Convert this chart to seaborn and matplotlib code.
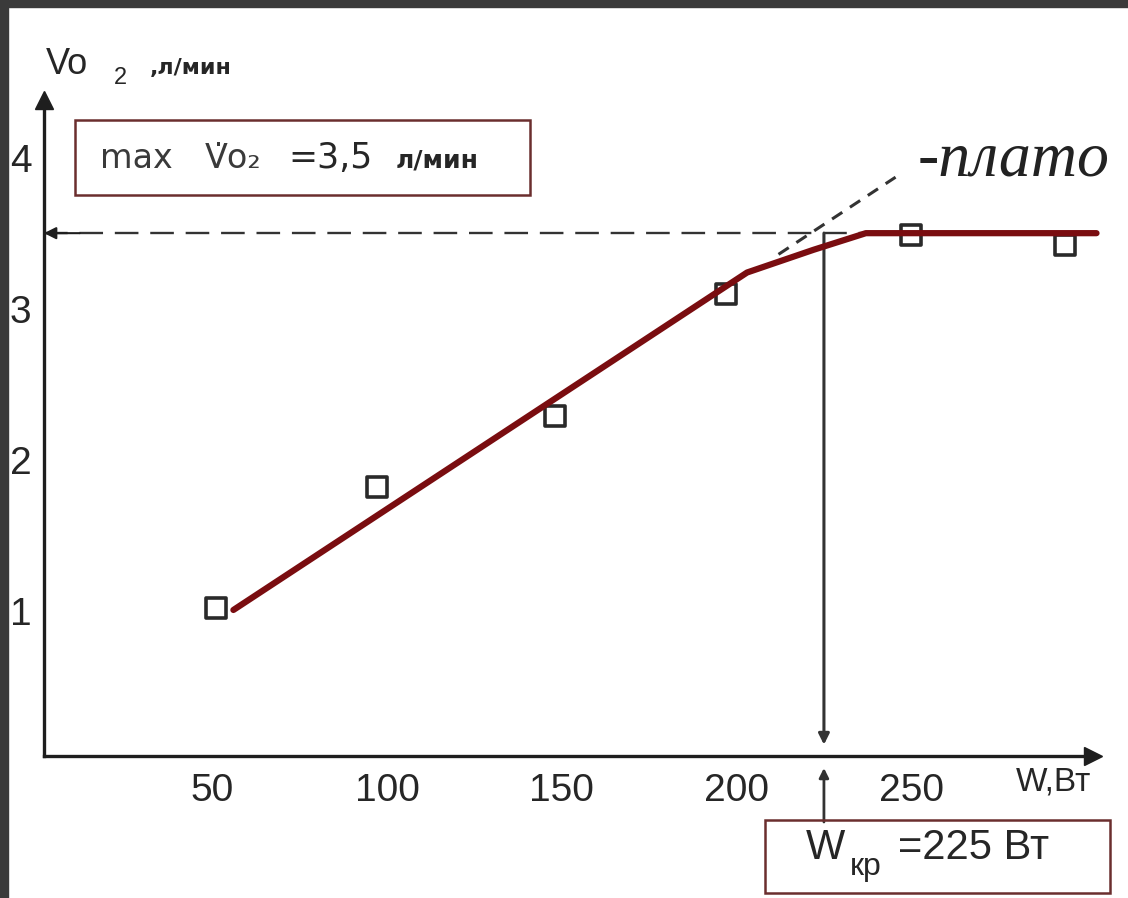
import matplotlib
matplotlib.use('Agg')
import matplotlib.pyplot as plt
from matplotlib.patches import Rectangle
import pandas as pd
import seaborn as sns

# measured points (W, l/min)
power_w = [51, 97, 148, 197, 250, 294]
vo2_lmin = [1.02, 1.82, 2.29, 3.10, 3.49, 3.42]

# fitted curve with plateau
fit_w = [56, 203, 222, 237, 303]
fit_vo2 = [1.01, 3.24, 3.39, 3.50, 3.50]

vo2_max = 3.5
w_crit = 225
x_ticks = [50, 100, 150, 200, 250]
y_ticks = [1, 2, 3, 4]

pointsDF = pd.DataFrame({'W': power_w, 'VO2': vo2_lmin})
fitDF = pd.DataFrame({'W': fit_w, 'VO2': fit_vo2})

sns.set_style('white')
plt.rcParams['font.family'] = ['Liberation Sans', 'DejaVu Sans']

W, H = 1128, 898
fig = plt.figure(figsize=(W / 100, H / 100), dpi=100)
fig.patch.set_facecolor('white')


def fx(px):
    return px / W


def fy(py):
    return 1 - py / H


ax = fig.add_axes([fx(44), fy(756), fx(1093) - fx(44), fy(100) - fy(756)])
ax.set_xlim(1.8, 302)
ax.set_ylim(0.045, 4.38)

ink = '#1e1e1e'
txt = '#262626'

# data
sns.scatterplot(data=pointsDF, x='W', y='VO2', ax=ax, marker='s', s=200,
                facecolor='white', edgecolor='#2a2a2a', linewidth=2.6,
                zorder=4, clip_on=False)
sns.lineplot(data=fitDF, x='W', y='VO2', ax=ax, color='#7a0d10', lw=4.5,
             zorder=5, clip_on=False)

# guide lines
ax.plot([1.8, 237], [vo2_max, vo2_max], color='#333333', lw=1.7,
        ls=(0, (10, 5)), zorder=2)
ax.annotate('', xy=(1.8, vo2_max), xytext=(12, vo2_max),
            arrowprops=dict(arrowstyle='-|>', color=ink, lw=1.5,
                            mutation_scale=18, shrinkA=0, shrinkB=0))
ax.annotate('', xy=(w_crit, 0.12), xytext=(w_crit, vo2_max),
            arrowprops=dict(arrowstyle='-|>', color='#333333', lw=2.2,
                            mutation_scale=16, shrinkA=0, shrinkB=0),
            zorder=3)
ax.annotate('', xy=(w_crit, H - 768), xytext=(w_crit, H - 822),
            xycoords=('data', 'figure pixels'), textcoords=('data', 'figure pixels'),
            arrowprops=dict(arrowstyle='-|>', color='#333333', lw=2.0,
                            mutation_scale=14, shrinkA=0, shrinkB=0),
            annotation_clip=False)
ax.plot([212, 245.5], [3.36, 3.87], color='#333333', lw=2.2,
        ls=(0, (4, 3)), zorder=2, clip_on=False)

# axes styling
sns.despine(ax=ax)
for s in ['left', 'bottom']:
    ax.spines[s].set_linewidth(2.4)
    ax.spines[s].set_color(ink)
ax.plot([1], [0], '>', color=ink, ms=13, transform=ax.transAxes, clip_on=False)
ax.plot([0], [1], '^', color=ink, ms=13, transform=ax.transAxes, clip_on=False)

ax.set_xticks(x_ticks)
ax.set_xticklabels([str(t) for t in x_ticks])
ax.set_yticks(y_ticks)
ax.set_yticklabels([str(t) for t in y_ticks])
ax.tick_params(axis='x', direction='in', length=9, width=1.8, color=ink,
               labelsize=28, pad=12, labelcolor=txt)
ax.tick_params(axis='y', direction='in', length=14, width=1.4, color=ink,
               labelsize=28, pad=9, labelcolor=txt)
ax.set_xlabel('')
ax.set_ylabel('')

# axis titles
fig.text(fx(46), fy(64), 'Vo', fontsize=26, va='center', ha='left', color=txt)
fig.text(fx(114), fy(78), '2', fontsize=17, va='center', ha='left', color=txt)
fig.text(fx(150), fy(68), ',л/мин', fontsize=16, va='center', ha='left',
         color=txt, weight='bold', family=['DejaVu Sans'])
fig.text(fx(1016), fy(782), 'W,Вт', fontsize=24, va='center', ha='left', color=txt)

# plateau label
fig.text(fx(918), fy(160), '-плато', fontsize=46, style='italic',
         va='center', ha='left', color='#222222', family=['Liberation Serif'])

# max VO2 box
fig.add_artist(Rectangle((fx(75), fy(195)), fx(530) - fx(75), fy(120) - fy(195),
                         transform=fig.transFigure, fill=False,
                         edgecolor='#6b2e2e', lw=1.8))
box_fam = ['DejaVu Sans']
fig.text(fx(100), fy(158), 'max', fontsize=24, va='center', ha='left',
         color='#3a3a3a', family=box_fam)
fig.text(fx(205), fy(158), 'V\u0307o\u2082', fontsize=24, va='center', ha='left',
         color='#3a3a3a', family=box_fam)
fig.text(fx(288), fy(158), '=3,5', fontsize=25, va='center', ha='left',
         color=txt, family=box_fam)
fig.text(fx(396), fy(160), 'л/мин', fontsize=18, weight='bold',
         va='center', ha='left', color=txt, family=box_fam)

# critical power box
fig.add_artist(Rectangle((fx(765), fy(893)), fx(1110) - fx(765), fy(820) - fy(893),
                         transform=fig.transFigure, fill=False,
                         edgecolor='#6b2e2e', lw=1.8))
fig.text(fx(806), fy(848), 'W', fontsize=30, va='center', ha='left', color=txt)
fig.text(fx(850), fy(867), 'кр', fontsize=23, va='center', ha='left', color=txt)
fig.text(fx(898), fy(848), '=225 Вт', fontsize=30, va='center', ha='left', color=txt)

# dark scan border
fig.add_artist(Rectangle((0, fy(7)), 1, 7 / H, transform=fig.transFigure,
                         color='#3a3a3a', zorder=20))
fig.add_artist(Rectangle((0, 0), 8 / W, 1, transform=fig.transFigure,
                         color='#3a3a3a', zorder=20))

fig.savefig('out.png', dpi=100)
